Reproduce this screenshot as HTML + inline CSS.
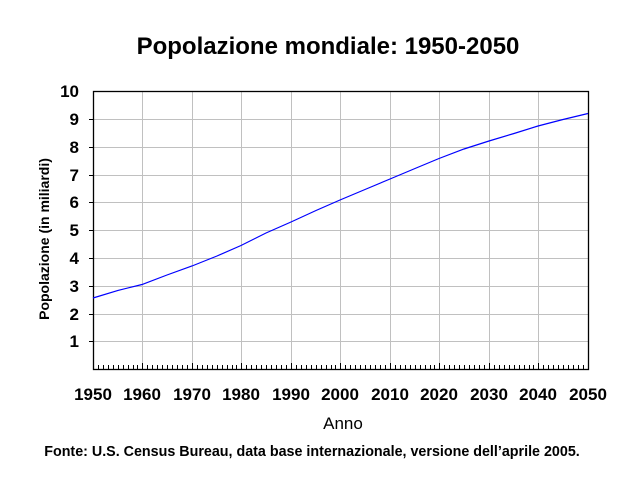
<!DOCTYPE html>
<html><head><meta charset="utf-8"><style>body{margin:0;background:#fff}svg{display:block}text{font-family:"Liberation Sans",Arial,sans-serif;font-weight:bold}</style></head><body>
<svg width="626" height="480" xmlns="http://www.w3.org/2000/svg">
<text x="328" y="54" font-size="24" text-anchor="middle">Popolazione mondiale: 1950-2050</text>
<g stroke="#c0c0c0" stroke-width="1">
<line x1="93" x2="588" y1="119.5" y2="119.5"/><line x1="93" x2="588" y1="147.5" y2="147.5"/><line x1="93" x2="588" y1="175.5" y2="175.5"/><line x1="93" x2="588" y1="202.5" y2="202.5"/><line x1="93" x2="588" y1="230.5" y2="230.5"/><line x1="93" x2="588" y1="258.5" y2="258.5"/><line x1="93" x2="588" y1="286.5" y2="286.5"/><line x1="93" x2="588" y1="314.5" y2="314.5"/><line x1="93" x2="588" y1="341.5" y2="341.5"/>
<line x1="142.5" x2="142.5" y1="91" y2="369"/><line x1="192.5" x2="192.5" y1="91" y2="369"/><line x1="241.5" x2="241.5" y1="91" y2="369"/><line x1="291.5" x2="291.5" y1="91" y2="369"/><line x1="340.5" x2="340.5" y1="91" y2="369"/><line x1="390.5" x2="390.5" y1="91" y2="369"/><line x1="439.5" x2="439.5" y1="91" y2="369"/><line x1="489.5" x2="489.5" y1="91" y2="369"/><line x1="538.5" x2="538.5" y1="91" y2="369"/>
</g>
<rect x="93.5" y="91.5" width="495" height="278" fill="none" stroke="#000" stroke-width="1.3"/>
<g stroke="#000"><line x1="89" x2="93" y1="119.5" y2="119.5"/><line x1="89" x2="93" y1="147.5" y2="147.5"/><line x1="89" x2="93" y1="175.5" y2="175.5"/><line x1="89" x2="93" y1="202.5" y2="202.5"/><line x1="89" x2="93" y1="230.5" y2="230.5"/><line x1="89" x2="93" y1="258.5" y2="258.5"/><line x1="89" x2="93" y1="286.5" y2="286.5"/><line x1="89" x2="93" y1="314.5" y2="314.5"/><line x1="89" x2="93" y1="341.5" y2="341.5"/></g>
<path stroke="#000" stroke-width="1" d="M98.5 369v-4M103.5 369v-4M108.5 369v-4M113.5 369v-4M118.5 369v-4M123.5 369v-4M128.5 369v-4M133.5 369v-4M137.5 369v-4M142.5 369v-6M147.5 369v-4M152.5 369v-4M157.5 369v-4M162.5 369v-4M167.5 369v-4M172.5 369v-4M177.5 369v-4M182.5 369v-4M187.5 369v-4M192.5 369v-6M197.5 369v-4M202.5 369v-4M207.5 369v-4M212.5 369v-4M217.5 369v-4M222.5 369v-4M227.5 369v-4M232.5 369v-4M236.5 369v-4M241.5 369v-6M246.5 369v-4M251.5 369v-4M256.5 369v-4M261.5 369v-4M266.5 369v-4M271.5 369v-4M276.5 369v-4M281.5 369v-4M286.5 369v-4M291.5 369v-6M296.5 369v-4M301.5 369v-4M306.5 369v-4M311.5 369v-4M316.5 369v-4M321.5 369v-4M326.5 369v-4M331.5 369v-4M335.5 369v-4M340.5 369v-6M345.5 369v-4M350.5 369v-4M355.5 369v-4M360.5 369v-4M365.5 369v-4M370.5 369v-4M375.5 369v-4M380.5 369v-4M385.5 369v-4M390.5 369v-6M395.5 369v-4M400.5 369v-4M405.5 369v-4M410.5 369v-4M415.5 369v-4M420.5 369v-4M425.5 369v-4M430.5 369v-4M434.5 369v-4M439.5 369v-6M444.5 369v-4M449.5 369v-4M454.5 369v-4M459.5 369v-4M464.5 369v-4M469.5 369v-4M474.5 369v-4M479.5 369v-4M484.5 369v-4M489.5 369v-6M494.5 369v-4M499.5 369v-4M504.5 369v-4M509.5 369v-4M514.5 369v-4M519.5 369v-4M524.5 369v-4M529.5 369v-4M533.5 369v-4M538.5 369v-6M543.5 369v-4M548.5 369v-4M553.5 369v-4M558.5 369v-4M563.5 369v-4M568.5 369v-4M573.5 369v-4M578.5 369v-4M583.5 369v-4"/>
<polyline fill="none" stroke="#0000ff" stroke-width="1.2" points="93,298 118,290.4 142,284.5 167,275 192,266 217,256 241,245.5 266,233 291,222 316,210.5 340,200 365,189.5 390,179 415,168.5 439,158.5 464,149 489,141 514,133.5 538,126 563,119.5 588,113.5"/>
<g font-size="17" text-anchor="end">
<text x="79" y="97">10</text><text x="79" y="125">9</text><text x="79" y="153">8</text><text x="79" y="181">7</text><text x="79" y="208">6</text><text x="79" y="236">5</text><text x="79" y="264">4</text><text x="79" y="292">3</text><text x="79" y="320">2</text><text x="79" y="347">1</text>
</g>
<g font-size="17" text-anchor="middle">
<text x="93" y="400">1950</text><text x="142" y="400">1960</text><text x="192" y="400">1970</text><text x="241" y="400">1980</text><text x="291" y="400">1990</text><text x="340" y="400">2000</text><text x="390" y="400">2010</text><text x="439" y="400">2020</text><text x="489" y="400">2030</text><text x="538" y="400">2040</text><text x="588" y="400">2050</text>
</g>
<text x="343" y="429" font-size="17" text-anchor="middle" style="font-weight:normal">Anno</text>
<text transform="translate(49,239) rotate(-90)" font-size="14" text-anchor="middle">Popolazione (in miliardi)</text>
<text x="312" y="456" font-size="14.3" text-anchor="middle">Fonte: U.S. Census Bureau, data base internazionale, versione dell’aprile 2005.</text>
</svg>
</body></html>
